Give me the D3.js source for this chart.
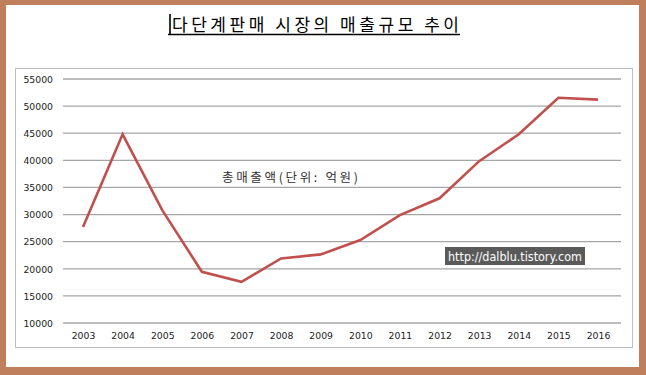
<!DOCTYPE html>
<html><head><meta charset="utf-8">
<script src="https://cdn.jsdelivr.net/npm/d3@7"></script>
<style>html,body{margin:0;padding:0;background:#fff;}svg{display:block;}</style>
</head><body>
<svg id="c" width="646" height="375"></svg>
<script>
const years = ["2003","2004","2005","2006","2007","2008","2009","2010","2011","2012","2013","2014","2015","2016"];
const sales = [27700, 44800, 30800, 19450, 17600, 21900, 22650, 25300, 29900, 33000, 39850, 44800, 51550, 51200];
const yTicks = [10000,15000,20000,25000,30000,35000,40000,45000,50000,55000];
const title = "다단계판매 시장의 매출규모 추이";
const unitLabel = "총매출액(단위: 억원)";
const watermark = "http://dalblu.tistory.com";

const svg = d3.select("#c");
// outer brown frame
svg.append("rect").attr("x",0).attr("y",0).attr("width",646).attr("height",375).attr("fill","#BF7E5C");
svg.append("rect").attr("x",6).attr("y",5).attr("width",633).attr("height",362).attr("fill","#fff");

// title
svg.append("text").attr("x",172).attr("y",31)
  .attr("font-family","'Noto Sans CJK KR', sans-serif").attr("font-size",17).attr("fill","#000")
  .attr("textLength",287).attr("lengthAdjust","spacing").text(title);
svg.append("line").attr("x1",168).attr("x2",460).attr("y1",34.5).attr("y2",34.5).attr("stroke","#000").attr("stroke-width",1.5);
svg.append("line").attr("x1",170).attr("x2",170).attr("y1",14).attr("y2",34).attr("stroke","#000").attr("stroke-width",1.6);

// chart box
svg.append("rect").attr("x",15.5).attr("y",68.5).attr("width",617).attr("height",279)
  .attr("fill","#fff").attr("stroke","#bdbdbd").attr("stroke-width",1);

const x = d3.scalePoint().domain(years).range([83,598]);
const y = d3.scaleLinear().domain([10000,55000]).range([323,79]);

// gridlines
svg.append("g").selectAll("line").data(yTicks).join("line")
  .attr("x1",63).attr("x2",621).attr("y1",d=>y(d)).attr("y2",d=>y(d))
  .attr("stroke","#a6a6a6").attr("stroke-width",1.3);

// y axis labels
const yAxis = d3.axisLeft(y).tickValues(yTicks).tickSize(0).tickPadding(0).tickFormat(d3.format("d"));
const ga = svg.append("g").attr("transform","translate(53,0)").call(yAxis);
ga.select(".domain").remove();
ga.selectAll("text").attr("font-family","'DejaVu Sans', Verdana, sans-serif").attr("font-size",9.3).attr("fill","#222").attr("dy","0.35em");

// x axis labels
const xAxis = d3.axisBottom(x).tickSize(0).tickPadding(0);
const gx = svg.append("g").attr("transform","translate(0,332)").call(xAxis);
gx.select(".domain").remove();
gx.selectAll("text").attr("font-family","'DejaVu Sans', Verdana, sans-serif").attr("font-size",9.3).attr("fill","#222");

// line
const line = d3.line().x((d,i)=>x(years[i])).y(d=>y(d));
svg.append("path").datum(sales).attr("d",line).attr("fill","none")
  .attr("stroke","#C0504D").attr("stroke-width",2.6).attr("stroke-linejoin","miter");

// unit label
svg.append("text").attr("x",222).attr("y",182)
  .attr("font-family","'Noto Sans CJK KR', sans-serif").attr("font-size",12.5).attr("fill","#333")
  .attr("textLength",136).attr("lengthAdjust","spacing").text(unitLabel);

// watermark
svg.append("rect").attr("x",445).attr("y",247).attr("width",140).attr("height",18).attr("fill","#5a5a5a");
svg.append("text").attr("x",448).attr("y",261)
  .attr("font-family","'DejaVu Sans', sans-serif").attr("font-size",12).attr("fill","#fff")
  .attr("textLength",134).attr("lengthAdjust","spacingAndGlyphs").text(watermark);
</script>
</body></html>
